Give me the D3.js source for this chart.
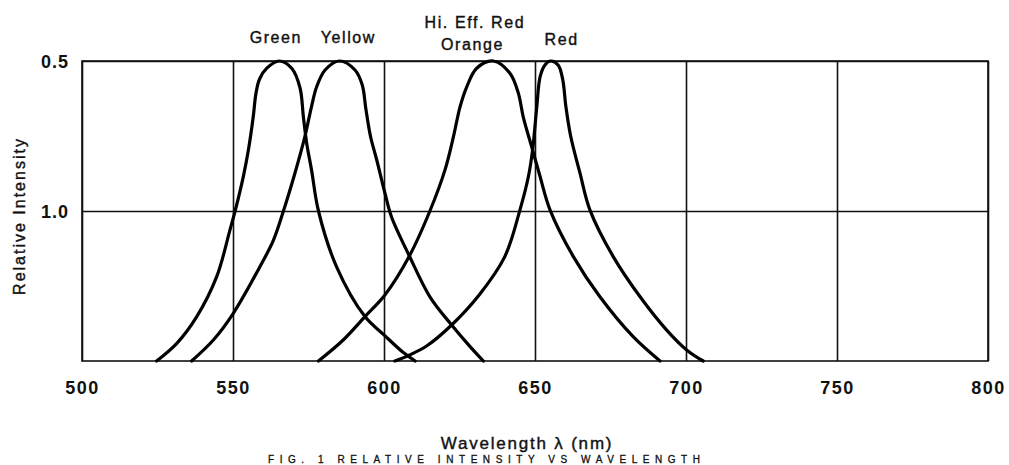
<!DOCTYPE html>
<html>
<head>
<meta charset="utf-8">
<script src="https://cdn.jsdelivr.net/npm/d3@7"></script>
<style>
  html, body { margin: 0; padding: 0; background: #fff; }
  svg { display: block; }
  text { font-family: "Liberation Sans", Arial, Helvetica, sans-serif; fill: #111; }
</style>
</head>
<body>
<svg id="chart" width="1009" height="465"></svg>
<script>
// Wavelength axis (nm)
const xTicks = [500, 550, 600, 650, 700, 750, 800];
// Relative intensity axis: tick positions and the labels printed beside them
const yTicks = [1.0, 0.5];
const yTickLabels = ["0.5", "1.0"];

// Emission spectra, [wavelength nm, relative intensity]
const greenCurve = [
  [524.7, 0], [531.4, 0.059], [538, 0.148], [544.6, 0.281], [549, 0.437],
  [550.7, 0.5], [553.4, 0.614], [555.1, 0.703], [556.7, 0.814], [557.6, 0.892],
  [558.8, 0.94], [561.2, 0.976], [565.3, 1.0], [569.5, 0.975], [572.2, 0.91],
  [573.3, 0.814], [574.4, 0.726], [576, 0.637], [578.3, 0.5], [584.3, 0.314],
  [593.7, 0.148], [600, 0.087], [606.4, 0.028], [610.3, 0]
];
const yellowCurve = [
  [536.3, 0], [543.5, 0.07], [550.1, 0.159], [558.9, 0.314], [563.4, 0.403],
  [566.7, 0.5], [570.5, 0.626], [573.8, 0.748], [576, 0.848], [577.7, 0.914],
  [580.5, 0.97], [585.2, 1.0], [590.4, 0.97], [592.8, 0.92], [594, 0.84],
  [595.5, 0.75], [597.6, 0.67], [600.3, 0.56], [602.5, 0.48], [608.4, 0.35],
  [615.2, 0.214], [622.4, 0.12], [628.5, 0.048], [632.9, 0]
];
const hiEffRedCurve = [
  [578.3, 0], [586.5, 0.07], [593.7, 0.148], [600.3, 0.22], [608.4, 0.35],
  [615.2, 0.5], [620.2, 0.637], [623, 0.748], [625.2, 0.848], [627.4, 0.914],
  [630.7, 0.976], [636.2, 1.0], [641.7, 0.959], [644.5, 0.892], [646.1, 0.814],
  [648.9, 0.714], [651.7, 0.614], [655, 0.503], [662.7, 0.348], [671.5, 0.214],
  [682.5, 0.081], [691.4, 0]
];
const redCurve = [
  [603.6, 0], [608, 0.018], [614.1, 0.05], [622.4, 0.12], [631.5, 0.22],
  [640, 0.348], [645, 0.503], [647.8, 0.614], [649.2, 0.703], [650.6, 0.848],
  [651.7, 0.948], [653.3, 0.987], [655.2, 1.0], [657.7, 0.986], [659.2, 0.937],
  [660.2, 0.85], [661.8, 0.75], [664.9, 0.626], [668.2, 0.503], [675.9, 0.348],
  [684.8, 0.214], [693.6, 0.103], [700.2, 0.037], [705.7, 0]
];
const curves = [greenCurve, yellowCurve, hiEffRedCurve, redCurve];

// Curve names above the peaks
const curveLabels = ["Green", "Yellow", "Hi. Eff. Red", "Orange", "Red"];
const xTitle = "Wavelength \u03bb (nm)";
const yTitle = "Relative Intensity";
const caption = "FIG. 1 RELATIVE INTENSITY VS WAVELENGTH";

// ---- layout ----
const margin = { left: 82, top: 61 };
const width = 906, height = 300;
// label anchor positions (wavelength, baseline y)
const labelPlacement = [
  { nm: 564.2, y: 43 }, { nm: 588.2, y: 43 },
  { nm: 630.1, y: 28 }, { nm: 629.3, y: 50 }, { nm: 658.8, y: 45 }
];

const svg = d3.select("#chart");
const g = svg.append("g").attr("transform", `translate(${margin.left},${margin.top})`);

const x = d3.scaleLinear().domain([500, 800]).range([0, width]);
const y = d3.scaleLinear().domain([0, 1]).range([height, 0]);

// vertical grid + wavelength labels
const xAxis = g.append("g")
  .attr("transform", `translate(0,${height})`)
  .call(d3.axisBottom(x).tickValues(xTicks).tickSize(-height).tickFormat(d3.format("d")));
xAxis.select(".domain").remove();
xAxis.selectAll(".tick line").attr("stroke", "#111").attr("stroke-width", 1.6);
xAxis.selectAll(".tick text")
  .attr("y", 33).attr("dy", 0)
  .style("font-size", "18px").style("font-weight", "bold")
  .style("letter-spacing", "1.5px").attr("fill", "#111");

// horizontal grid + intensity labels
const yAxis = g.append("g")
  .call(d3.axisLeft(y).tickValues(yTicks).tickSize(-width)
    .tickFormat((d, i) => yTickLabels[i]));
yAxis.select(".domain").remove();
yAxis.selectAll(".tick line").attr("stroke", "#111").attr("stroke-width", 1.6);
yAxis.selectAll(".tick text")
  .attr("x", -13).attr("dy", "0.38em")
  .style("font-size", "18px").style("font-weight", "bold")
  .style("letter-spacing", "1px").attr("fill", "#111");

// frame
g.append("rect")
  .attr("x", 0).attr("y", 0).attr("width", width).attr("height", height)
  .attr("fill", "none").attr("stroke", "#111").attr("stroke-width", 1.6);

// spectra
const line = d3.line()
  .x(d => x(d[0]))
  .y(d => y(d[1]))
  .curve(d3.curveCatmullRom.alpha(0.5));

g.selectAll("path.spectrum")
  .data(curves)
  .join("path")
  .attr("class", "spectrum")
  .attr("d", line)
  .attr("fill", "none")
  .attr("stroke", "#000")
  .attr("stroke-width", 3.2)
  .attr("stroke-linejoin", "round")
  .attr("stroke-linecap", "round");

// curve names
svg.selectAll("text.curve-label")
  .data(curveLabels)
  .join("text")
  .attr("class", "curve-label")
  .attr("x", (d, i) => margin.left + x(labelPlacement[i].nm))
  .attr("y", (d, i) => labelPlacement[i].y)
  .attr("text-anchor", "middle")
  .style("font-size", "16px")
  .style("letter-spacing", "1.6px")
  .attr("stroke", "#111").attr("stroke-width", 0.4)
  .text(d => d);

// axis titles
svg.append("text")
  .attr("x", 527).attr("y", 449)
  .attr("text-anchor", "middle")
  .style("font-size", "17px").style("letter-spacing", "1.8px")
  .attr("stroke", "#111").attr("stroke-width", 0.4)
  .text(xTitle);

svg.append("text")
  .attr("transform", "translate(25,216) rotate(-90)")
  .attr("text-anchor", "middle")
  .style("font-size", "16px").style("letter-spacing", "2px")
  .attr("stroke", "#111").attr("stroke-width", 0.4)
  .text(yTitle);

// figure caption
svg.append("text")
  .attr("x", 268).attr("y", 463)
  .attr("textLength", 432).attr("lengthAdjust", "spacing")
  .style("font-size", "10px")
  .attr("stroke", "#111").attr("stroke-width", 0.3)
  .text(caption);
</script>
</body>
</html>
